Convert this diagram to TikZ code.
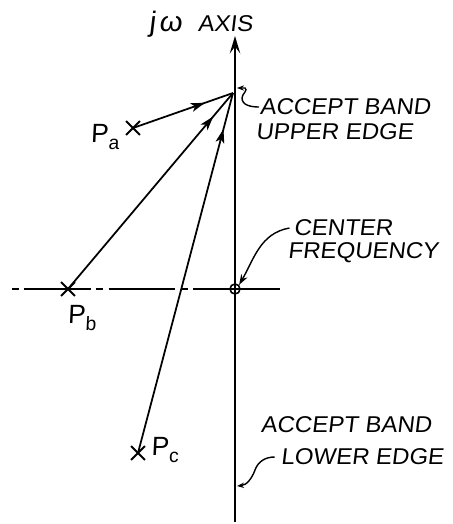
\documentclass[tikz,border=0pt]{standalone}
\usepackage{fontspec}
\newfontfamily\hand[FakeStretch=1.05,FakeSlant=0.12]{Liberation Sans}
\newfontfamily\handp[FakeSlant=0.05]{Liberation Sans}
\newcommand{\psub}[1]{\raisebox{-3.5pt}{\fontsize{11}{12}\selectfont #1}}
\usetikzlibrary{arrows.meta,decorations.markings,shapes.misc}

\begin{document}
\begin{tikzpicture}[x=0.02cm,y=-0.02cm,line width=1pt,
  lbl/.style={font={\hand\fontsize{13}{15}\selectfont},inner sep=0pt,anchor=west},
  pole/.style={font={\handp\fontsize{15}{17}\selectfont},inner sep=0pt},
  xmark/.style={draw,cross out,minimum size=0.24cm,inner sep=0pt,line width=1.1pt},
  midarrow/.style={postaction={decorate},decoration={markings,mark=at position #1 with {\arrow{Stealth[length=8pt,width=5pt,inset=2pt]}}}},
  lead/.style={line width=0.8pt}]
\useasboundingbox (0,0) rectangle (453,524);
% s-plane axes
\coordinate (top) at (235,36);
\coordinate (bot) at (235,522);
\coordinate (hl) at (12,289);
\coordinate (hr) at (280,289);
\node[draw,circle,minimum size=0.2cm,inner sep=0pt,line width=0.9pt] (cf) at (235,289) {};
\draw[-{Stealth[length=10pt,width=6pt,inset=4pt]}] (bot)--(top);
\draw[dash pattern=on 4pt off 3pt on 38pt off 3pt] (hl)--(cf.center);
\draw (cf.center)--(hr);
% poles and the point they look at
\coordinate (conv) at (233,93);
\node[xmark] (pa) at (133,128) {};
\node[xmark] (pb) at (68,289) {};
\node[xmark] (pc) at (138,453) {};
\draw[midarrow=0.72] (pa.center)--(conv);
\draw[midarrow=0.88] (pb.center)--(conv);
\draw[midarrow=0.9] (pc.center)--(conv);
\node[pole] (la) at (105,137) {P\psub{a}};
\node[pole] (lb) at (82,318) {P\psub{b}};
\node[pole] (lc) at (165,450) {P\psub{c}};
% labels
\node[lbl] (jw) at (148,24) {{\fontsize{16}{16}\selectfont j\kern2pt ω}\hspace{0.7em}AXIS};
\node[lbl] (up1) at (259,107) {ACCEPT BAND};
\node[lbl] (up2) at (255,132) {UPPER EDGE};
\node[lbl] (ct1) at (293,228) {CENTER};
\node[lbl] (ct2) at (287,253) {FREQUENCY};
\node[lbl] (lo1) at (260,425) {ACCEPT BAND};
\node[lbl] (lo2) at (280,457) {LOWER EDGE};
% leaders
\coordinate (ue) at (237,88);
\coordinate (le) at (237,486);
\draw[lead,{Stealth[length=4pt,width=3pt]}-] (ue)--++(8,0) to[out=-30,in=90] ++(-3,10) to[out=-90,in=180] (up1.west);
\draw[lead,-{Stealth[length=6pt,width=4pt]}] ([xshift=-2pt]ct1.west) to[out=190,in=60] (cf.north east);
\draw[lead,{Stealth[length=4pt,width=3pt]}-] (le) to[out=5,in=-110] ++(18,-16) to[out=70,in=180] ([xshift=-3pt]lo2.west);
\end{tikzpicture}
\end{document}
